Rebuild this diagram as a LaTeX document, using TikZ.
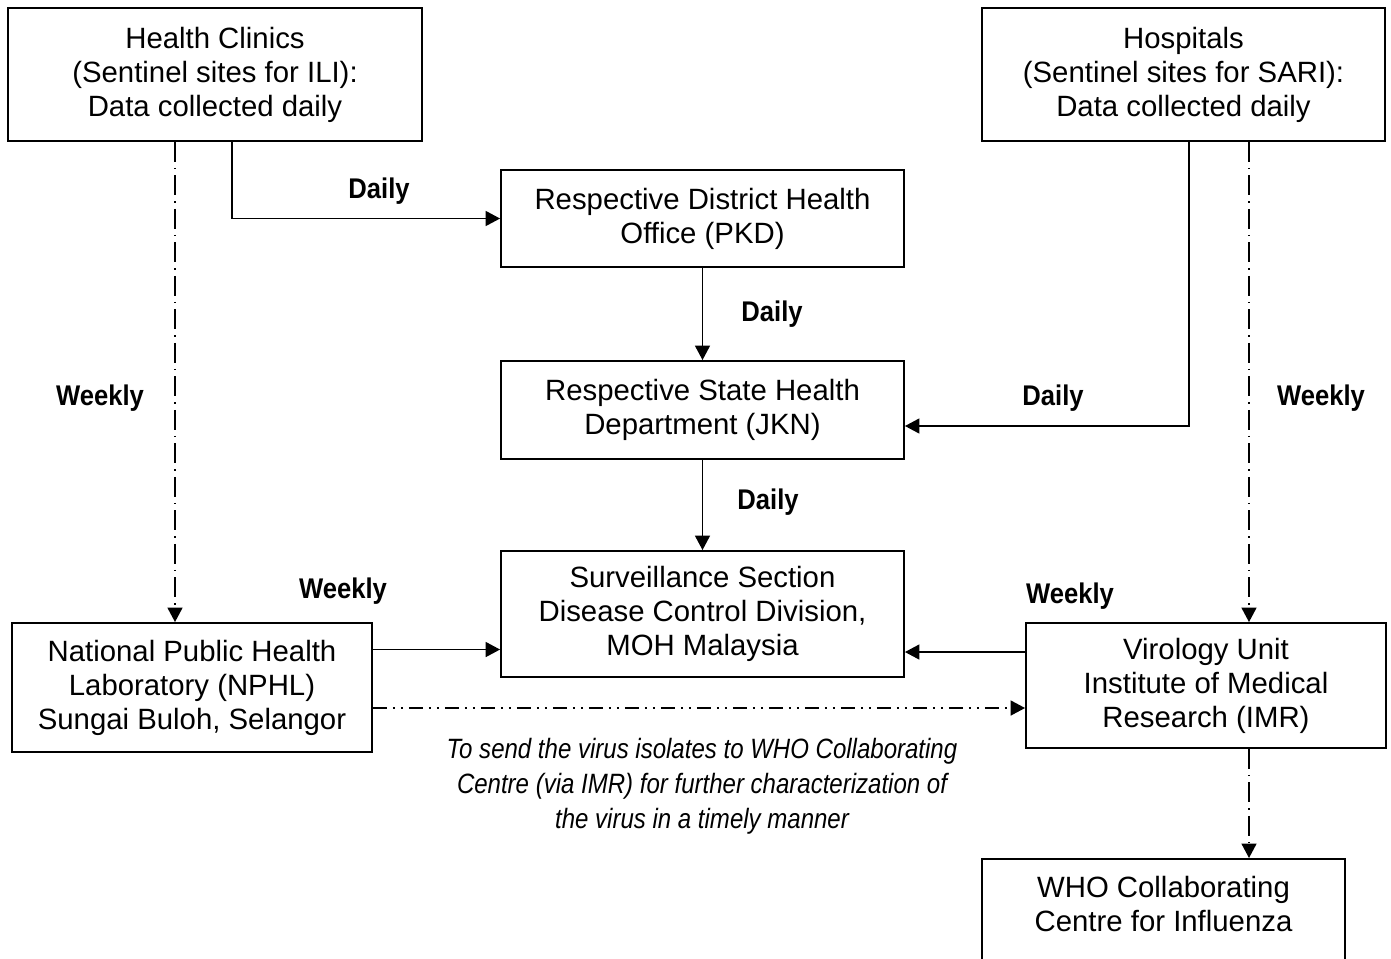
\documentclass[tikz,border=0pt]{standalone}
\usepackage{fontspec}
\setmainfont{Liberation Sans}
\newfontfamily\labelfont{Liberation Sans}[FakeStretch=0.9]
\newfontfamily\notefont{Liberation Sans}[FakeStretch=0.86]
\usetikzlibrary{arrows.meta,positioning}
\tikzset{
  box/.style = {draw, line width=1.1pt, align=center, inner sep=0pt,
                font=\fontsize{16.7}{19.4}\selectfont},
  boxtxt/.style = {align=center, inner sep=0pt, font=\fontsize{16.7}{19.4}\selectfont},
  freq/.style = {inner sep=0pt, font=\labelfont\bfseries\fontsize{16.2}{19}\selectfont},
  note/.style = {inner sep=0pt, align=center,
                 font=\notefont\itshape\fontsize{15.9}{19.9}\selectfont},
  flow/.style = {line width=0.95pt, -{Triangle[length=0.29cm,width=0.3cm]}},
  weekflow/.style = {flow, dash pattern=on 0.4cm off 0.12cm on 0.03cm off 0.12cm},
  isoflow/.style = {flow, dash pattern=on 0.28cm off 0.12cm on 0.04cm off 0.12cm on 0.04cm off 0.12cm}
}

\begin{document}
\begin{tikzpicture}[x=0.02cm, y=-0.02cm]
  \useasboundingbox (0,0) rectangle (1391,958);
  \clip (0,0) rectangle (1391,958);

  \node (clinics) [box, minimum width=8.28cm, minimum height=2.66cm] at (215,74.5)
    {Health Clinics\\(Sentinel sites for ILI):\\Data collected daily};
  \node (hosp) [box, minimum width=8.06cm, minimum height=2.66cm] at (1183.5,74.5)
    {Hospitals\\(Sentinel sites for SARI):\\Data collected daily};
  \node (pkd) [box, minimum width=8.06cm, minimum height=1.94cm] at (702.5,218.5)
    {Respective District Health\\Office (PKD)};
  \node (jkn) [box, minimum width=8.06cm, minimum height=1.96cm] at (702.5,410)
    {Respective State Health\\Department (JKN)};
  \node (surv) [box, minimum width=8.06cm, minimum height=2.52cm] at (702.5,614)
    {Surveillance Section\\Disease Control Division,\\MOH Malaysia};
  \node (nphl) [box, minimum width=7.2cm, minimum height=2.58cm] at (192,687.5)
    {National Public Health\\Laboratory (NPHL)\\Sungai Buloh, Selangor};
  \node (imr) [box, minimum width=7.2cm, minimum height=2.5cm] at (1206,685.5)
    {Virology Unit\\Institute of Medical\\Research (IMR)};
  \node (who) [box, minimum width=7.26cm, minimum height=3cm, anchor=north] at (1163.5,858) {};
  \node (whotxt) [boxtxt] at (1163.5,904) {WHO Collaborating\\Centre for Influenza};

  \draw[flow] ([xshift=0.34cm]clinics.south) |- (pkd.west);
  \draw[flow] (pkd) -- (jkn);
  \draw[flow] ([xshift=0.11cm]hosp.south) |- ([yshift=-0.32cm]jkn.east);
  \draw[flow] (jkn) -- (surv);
  \draw[weekflow] ([xshift=-0.8cm]clinics.south) -- ([xshift=-0.8cm]clinics.south |- nphl.north);
  \draw[weekflow] ([xshift=1.31cm]hosp.south) -- ([xshift=1.31cm]hosp.south |- imr.north);
  \draw[flow] ([yshift=0.76cm]nphl.east) coordinate (n1) -- (n1 -| surv.west);
  \draw[flow] ([yshift=0.67cm]imr.west) coordinate (i1) -- (i1 -| surv.east);
  \draw[isoflow] ([yshift=-0.41cm]nphl.east) coordinate (n2) -- (n2 -| imr.west);
  \draw[weekflow] ([xshift=0.86cm]imr.south) -- ([xshift=0.86cm]imr.south |- who.north);

  \node (d1) [freq] at (379,191) {Daily};
  \node (d2) [freq] at (772,314) {Daily};
  \node (d3) [freq] at (1053,398) {Daily};
  \node (d4) [freq] at (768,502) {Daily};
  \node (w1) [freq] at (100,398) {Weekly};
  \node (w2) [freq] at (1321,398) {Weekly};
  \node (w3) [freq] at (343,591) {Weekly};
  \node (w4) [freq] at (1070,596) {Weekly};

  \node (isonote) [note] at (702,786)
    {To send the virus isolates to WHO Collaborating\\Centre (via IMR) for further characterization of\\the virus in a timely manner};
\end{tikzpicture}
\end{document}
